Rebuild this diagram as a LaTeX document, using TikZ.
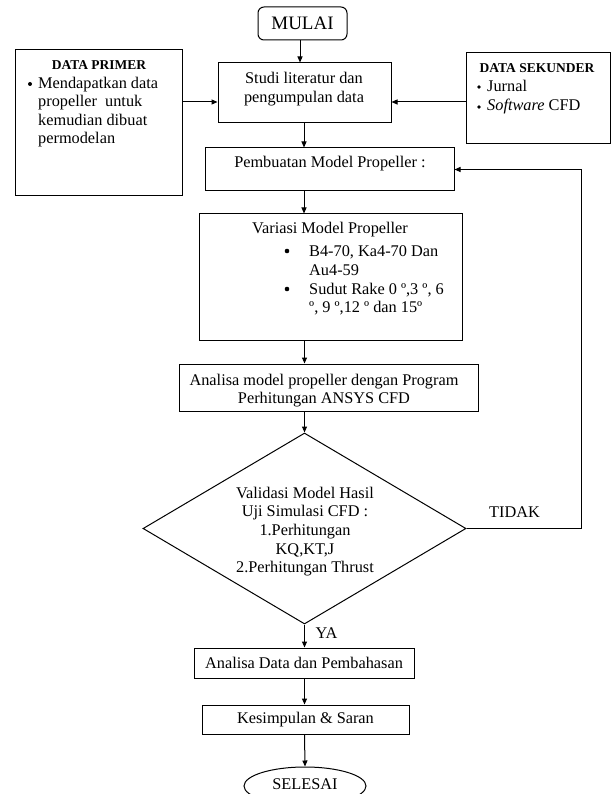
\documentclass[tikz,border=0pt]{standalone}
\usepackage{fontspec}
\setmainfont{Liberation Serif}
\usetikzlibrary{arrows.meta,shapes.geometric}
\begin{document}
\begin{tikzpicture}[x=1pt,y=-1pt,
  every node/.style={font=\fontsize{16.3}{18.6}\selectfont, inner sep=0pt},
  box/.style={draw, line width=1pt},
  txt/.style={align=center},
  hdr/.style={font=\fontsize{13.5}{16}\selectfont\bfseries},
  bul/.style={circle, fill, minimum size=#1},
  arr/.style={line width=1pt, -{Triangle[length=6pt,width=5pt]}}]
\useasboundingbox (0,0) rectangle (611,794);
% shapes
\node[box, rounded corners=6pt, minimum width=89pt, minimum height=33pt, font=\fontsize{19}{22}\selectfont] (mulai) at (302.5,23.5) {MULAI};
\node[box, minimum width=173pt, minimum height=60pt] (studi) at (304.5,93) {};
\node[txt] (studiT) at (304,89) {Studi literatur dan\\pengumpulan data};
\node[box, minimum width=167pt, minimum height=146pt] (primer) at (98.5,123) {};
\node[hdr] (primerH) at (99,65) {DATA PRIMER};
\node[bul=4pt] (primerB) at (30,84) {};
\node[anchor=west, align=left] (primerT) at (38,112) {Mendapatkan data\\propeller\ \ untuk\\kemudian dibuat\\permodelan};
\node[box, minimum width=144pt, minimum height=91pt] (sekunder) at (538,98.5) {};
\node[hdr] (sekunderH) at (537,68) {DATA SEKUNDER};
\node[bul=3.6pt] (sekB1) at (479,87) {};
\node[anchor=west] (sekT1) at (487,86) {Jurnal};
\node[bul=3.6pt] (sekB2) at (479,107) {};
\node[anchor=west] (sekT2) at (487,106) {\textit{Software} CFD};
\node[box, minimum width=249pt, minimum height=43pt] (pemb) at (329.5,169.5) {};
\node (pembT) at (330,164) {Pembuatan Model Propeller :};
\node[box, minimum width=263pt, minimum height=126pt] (variasi) at (330.5,277) {};
\node (variasiT) at (330,230) {Variasi Model Propeller};
\node[bul=4.6pt] (varB1) at (287,251) {};
\node[anchor=west, align=left] (varT1) at (309,260.5) {B4-70, Ka4-70 Dan\\Au4-59};
\node[bul=4.6pt] (varB2) at (287,289) {};
\node[anchor=west, align=left] (varT2) at (309,299) {Sudut Rake 0 º,3 º, 6\\º, 9 º,12 º dan 15º};
\node[box, minimum width=299pt, minimum height=47pt] (analisa) at (328.5,387.5) {};
\node[txt] (analisaT) at (324,390.5) {Analisa model propeller dengan Program\\Perhitungan ANSYS CFD};
\node[box, diamond, minimum width=323pt, minimum height=191pt] (dia) at (304.5,528.5) {};
\node[txt] (diaT) at (305,531.5) {Validasi Model Hasil\\Uji Simulasi CFD :\\1.Perhitungan\\KQ,KT,J\\2.Perhitungan Thrust};
\node (tidak) at (514.5,512) {TIDAK};
\node (ya) at (326.5,633) {YA};
\node[box, minimum width=220pt, minimum height=30pt] (adata) at (304,663) {Analisa Data dan Pembahasan};
\node[box, minimum width=207pt, minimum height=29pt] (kes) at (305.5,719.5) {Kesimpulan \& Saran};
\node[box, ellipse, minimum width=122pt, minimum height=38pt] (selesai) at (305,786) {\raisebox{4pt}{SELESAI}};
% connectors
\coordinate (ax) at (304,0);
\coordinate (sy) at (0,102);
\coordinate (fb) at (581,0);
\draw[arr] (mulai.south -| 300,0) -- (studi.north -| 300,0);
\draw[arr] (sy -| primer.east) -- (sy -| studi.west);
\draw[arr] (sy -| sekunder.west) -- (sy -| studi.east);
\draw[arr] (ax |- studi.south) -- (ax |- pemb.north);
\draw[arr] (ax |- pemb.south) -- (ax |- variasi.north);
\draw[arr] (dia.north |- variasi.south) -- (dia.north |- analisa.north);
\draw[arr] (dia.north |- analisa.south) -- (dia.north);
\draw[arr] (dia.south) -- (dia.south |- adata.north);
\draw[arr] (dia.south |- adata.south) -- (dia.south |- kes.north);
\draw[arr] (dia.south |- kes.south) -- (selesai.north);
\draw[arr] (dia.east) -- (fb |- dia.east) -- (fb |- pemb.east) -- (pemb.east);
\end{tikzpicture}
\end{document}
